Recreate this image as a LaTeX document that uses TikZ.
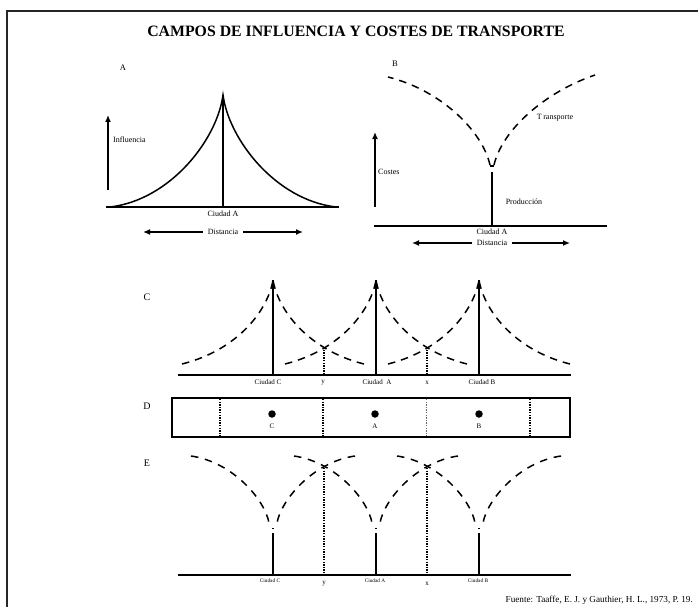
\documentclass[tikz,border=0pt]{standalone}
\usepackage{fontspec}
\setmainfont{Liberation Serif}
\usetikzlibrary{arrows.meta}
\begin{document}
\begin{tikzpicture}[x=1pt,y=-1pt,
  frameline/.style={line width=1.8pt, draw=black!85},
  axis/.style={line width=2pt},
  cityline/.style={line width=1.4pt},
  solidcurve/.style={line width=1.5pt},
  dashcurve/.style={line width=1.5pt, dash pattern=on 7.5pt off 6pt},
  edash/.style={line width=1.5pt, dash pattern=on 7.5pt off 6.7pt},
  dotline/.style={line width=2pt, dash pattern=on 1.3pt off 1.3pt},
  lightdot/.style={line width=1pt, draw=black!60, dash pattern=on 1.3pt off 1.3pt},
  bigarrow/.style={line width=2.5pt, -{Latex[length=7pt,width=6pt]}},
  lbl/.style={font=\fontsize{8}{9}\selectfont, inner sep=0pt},
  clbl/.style={font=\fontsize{7}{8}\selectfont, inner sep=0pt},
  elbl/.style={font=\fontsize{5.3}{6}\selectfont, inner sep=0pt},
  panel/.style={font=\fontsize{10}{11}\selectfont, inner sep=0pt},
  panelsmall/.style={font=\fontsize{8.5}{9}\selectfont, inner sep=0pt},
  dot/.style={circle, fill=black, inner sep=0pt, minimum size=7.5pt}
]
\useasboundingbox (0,0) rectangle (698,607);
% frame
\coordinate (fTL) at (7,11);
\coordinate (fTR) at (698,11);
\coordinate (fBL) at (7,607);
\draw[frameline] (fTR) -- (fTL) -- (fBL);
% title
\node[inner sep=0pt, font=\bfseries\fontsize{15.8}{17}\selectfont] (title) at (356,31) {CAMPOS DE INFLUENCIA Y COSTES DE TRANSPORTE};

% ---------- Panel A ----------
\node[panelsmall] (labA) at (123,68) {A};
\coordinate (Apk) at (223,95);
\coordinate (Abase) at (223,207);
\coordinate (AL) at (106,207);
\coordinate (AR) at (339,207);
\draw[axis] (AL) -- (AR);
\draw[solidcurve] (110,207) .. controls (170,200) and (217,140) .. (Apk)
   .. controls (229,140) and (276,200) .. (336,207);
\draw[cityline] (Apk) -- (Abase);
\coordinate (AvS) at (108,190); \coordinate (AvE) at (108,115);
\draw[bigarrow] (AvS) -- (AvE);
\node[lbl, anchor=west] (infl) at (113,140) {Influencia};
\node[lbl] (ciuA1) at (223,214) {Ciudad A};
\node[lbl] (distA) at (223,232) {Distancia};
\coordinate (AdL) at (143,232); \coordinate (AdR) at (303,232);
\draw[bigarrow] (distA.west) ++(-5,0) -- (AdL);
\draw[bigarrow] (distA.east) ++(5,0) -- (AdR);

% ---------- Panel B ----------
\node[panelsmall] (labB) at (395,64) {B};
\coordinate (BL) at (374,226);
\coordinate (BR) at (607,226);
\draw[axis] (BL) -- (BR);
\coordinate (Bprod) at (492,172);
\coordinate (Bbase) at (492,226);
\draw[cityline] (Bprod) -- (Bbase);
\draw[dashcurve] (490,165) .. controls (482,130) and (440,90) .. (388,77);
\draw[dashcurve] (494,165) .. controls (502,130) and (545,92) .. (595,75);
\draw[line width=2pt] (490.3,166) -- (493.7,166);
\coordinate (BvS) at (375,207); \coordinate (BvE) at (375,132);
\draw[bigarrow] (BvS) -- (BvE);
\node[lbl, anchor=west] (costes) at (378,172) {Costes};
\node[lbl] (transp) at (555,118) {T\kern1.5pt ransporte};
\node[lbl] (prod) at (524,202) {Producción};
\node[lbl] (ciuA2) at (492,232) {Ciudad A};
\node[lbl] (distB) at (492,243) {Distancia};
\coordinate (BdL) at (412,243); \coordinate (BdR) at (570,243);
\draw[bigarrow] (distB.west) ++(-5,0) -- (BdL);
\draw[bigarrow] (distB.east) ++(5,0) -- (BdR);

% ---------- Panel C ----------
\node[panel] (labC) at (147,297) {C};
\coordinate (CL) at (178,375);
\coordinate (CR) at (571,375);
\draw[axis] (CL) -- (CR);
\foreach \cx/\nm in {273/C,376/A,479/B}{
  \coordinate (Cpk\nm) at (\cx,280);
  \coordinate (Cbs\nm) at (\cx,375);
  \draw[cityline] (Cpk\nm) -- (Cbs\nm);
  \draw[dashcurve] (\cx-91,364) .. controls (\cx-35,350) and (\cx-5,310) .. (Cpk\nm);
  \draw[dashcurve] (\cx+91,364) .. controls (\cx+35,350) and (\cx+5,310) .. (Cpk\nm);
}
\coordinate (Cy1) at (324,347); \coordinate (Cy2) at (324,375);
\coordinate (Cx1) at (427,347); \coordinate (Cx2) at (427,375);
\draw[dotline] (Cy1) -- (Cy2);
\draw[dotline] (Cx1) -- (Cx2);
\node[clbl] (cC) at (268,382) {Ciudad C};
\node[clbl] (cy) at (323,383) {y};
\node[clbl] (cA) at (377,382) {Ciudad\ \ A};
\node[clbl] (cx) at (427,383) {x};
\node[clbl] (cB) at (482,382) {Ciudad B};

% ---------- Panel D ----------
\node[panel] (labD) at (147,406) {D};
\draw[line width=2pt] (172,398) rectangle (570,437);
\draw[dotline] (220,399) -- (220,436);
\draw[dotline] (323,399) -- (323,436);
\draw[lightdot] (426,399) -- (426,436);
\draw[dotline] (530,399) -- (530,436);
\node[dot] (dC) at (272,414) {};
\node[dot] (dA) at (375,414) {};
\node[dot] (dB) at (479,414) {};
\node[clbl] (lC) at (272,426) {C};
\node[clbl] (lA) at (375,426) {A};
\node[clbl] (lB) at (479,426) {B};

% ---------- Panel E ----------
\node[panel] (labE) at (147,463) {E};
\coordinate (EL) at (178,575);
\coordinate (ER) at (571,575);
\draw[axis] (EL) -- (ER);
\foreach \cx/\nm in {273/C,376/A,479/B}{
  \coordinate (Etop\nm) at (\cx,533);
  \coordinate (Ebs\nm) at (\cx,575);
  \draw[cityline] (Etop\nm) -- (Ebs\nm);
  \draw[line width=0.8pt] (\cx-1.2,528) -- (\cx+1.2,528);
  \draw[edash] (\cx-82,456) .. controls (\cx-40,462) and (\cx-8,500) .. (\cx-4,523);
  \draw[edash] (\cx+82,456) .. controls (\cx+40,462) and (\cx+8,500) .. (\cx+4,523);
}
\coordinate (Ey1) at (324,468); \coordinate (Ey2) at (324,575);
\coordinate (Ex1) at (427,468); \coordinate (Ex2) at (427,575);
\draw[dotline] (Ey1) -- (Ey2);
\draw[dotline] (Ex1) -- (Ex2);
\node[elbl] (eC) at (270,581) {Ciudad C};
\node[clbl] (ey) at (324,584) {y};
\node[elbl] (eA) at (375,581) {Ciudad A};
\node[clbl] (ex) at (427,584) {x};
\node[elbl] (eB) at (478,581) {Ciudad B};

% footer
\node[inner sep=0pt, anchor=east, font=\fontsize{9.2}{10}\selectfont] (src) at (693,600) {Fuente: Taaffe, E. J. y Gauthier, H. L., 1973, P. 19.};
\end{tikzpicture}
\end{document}
